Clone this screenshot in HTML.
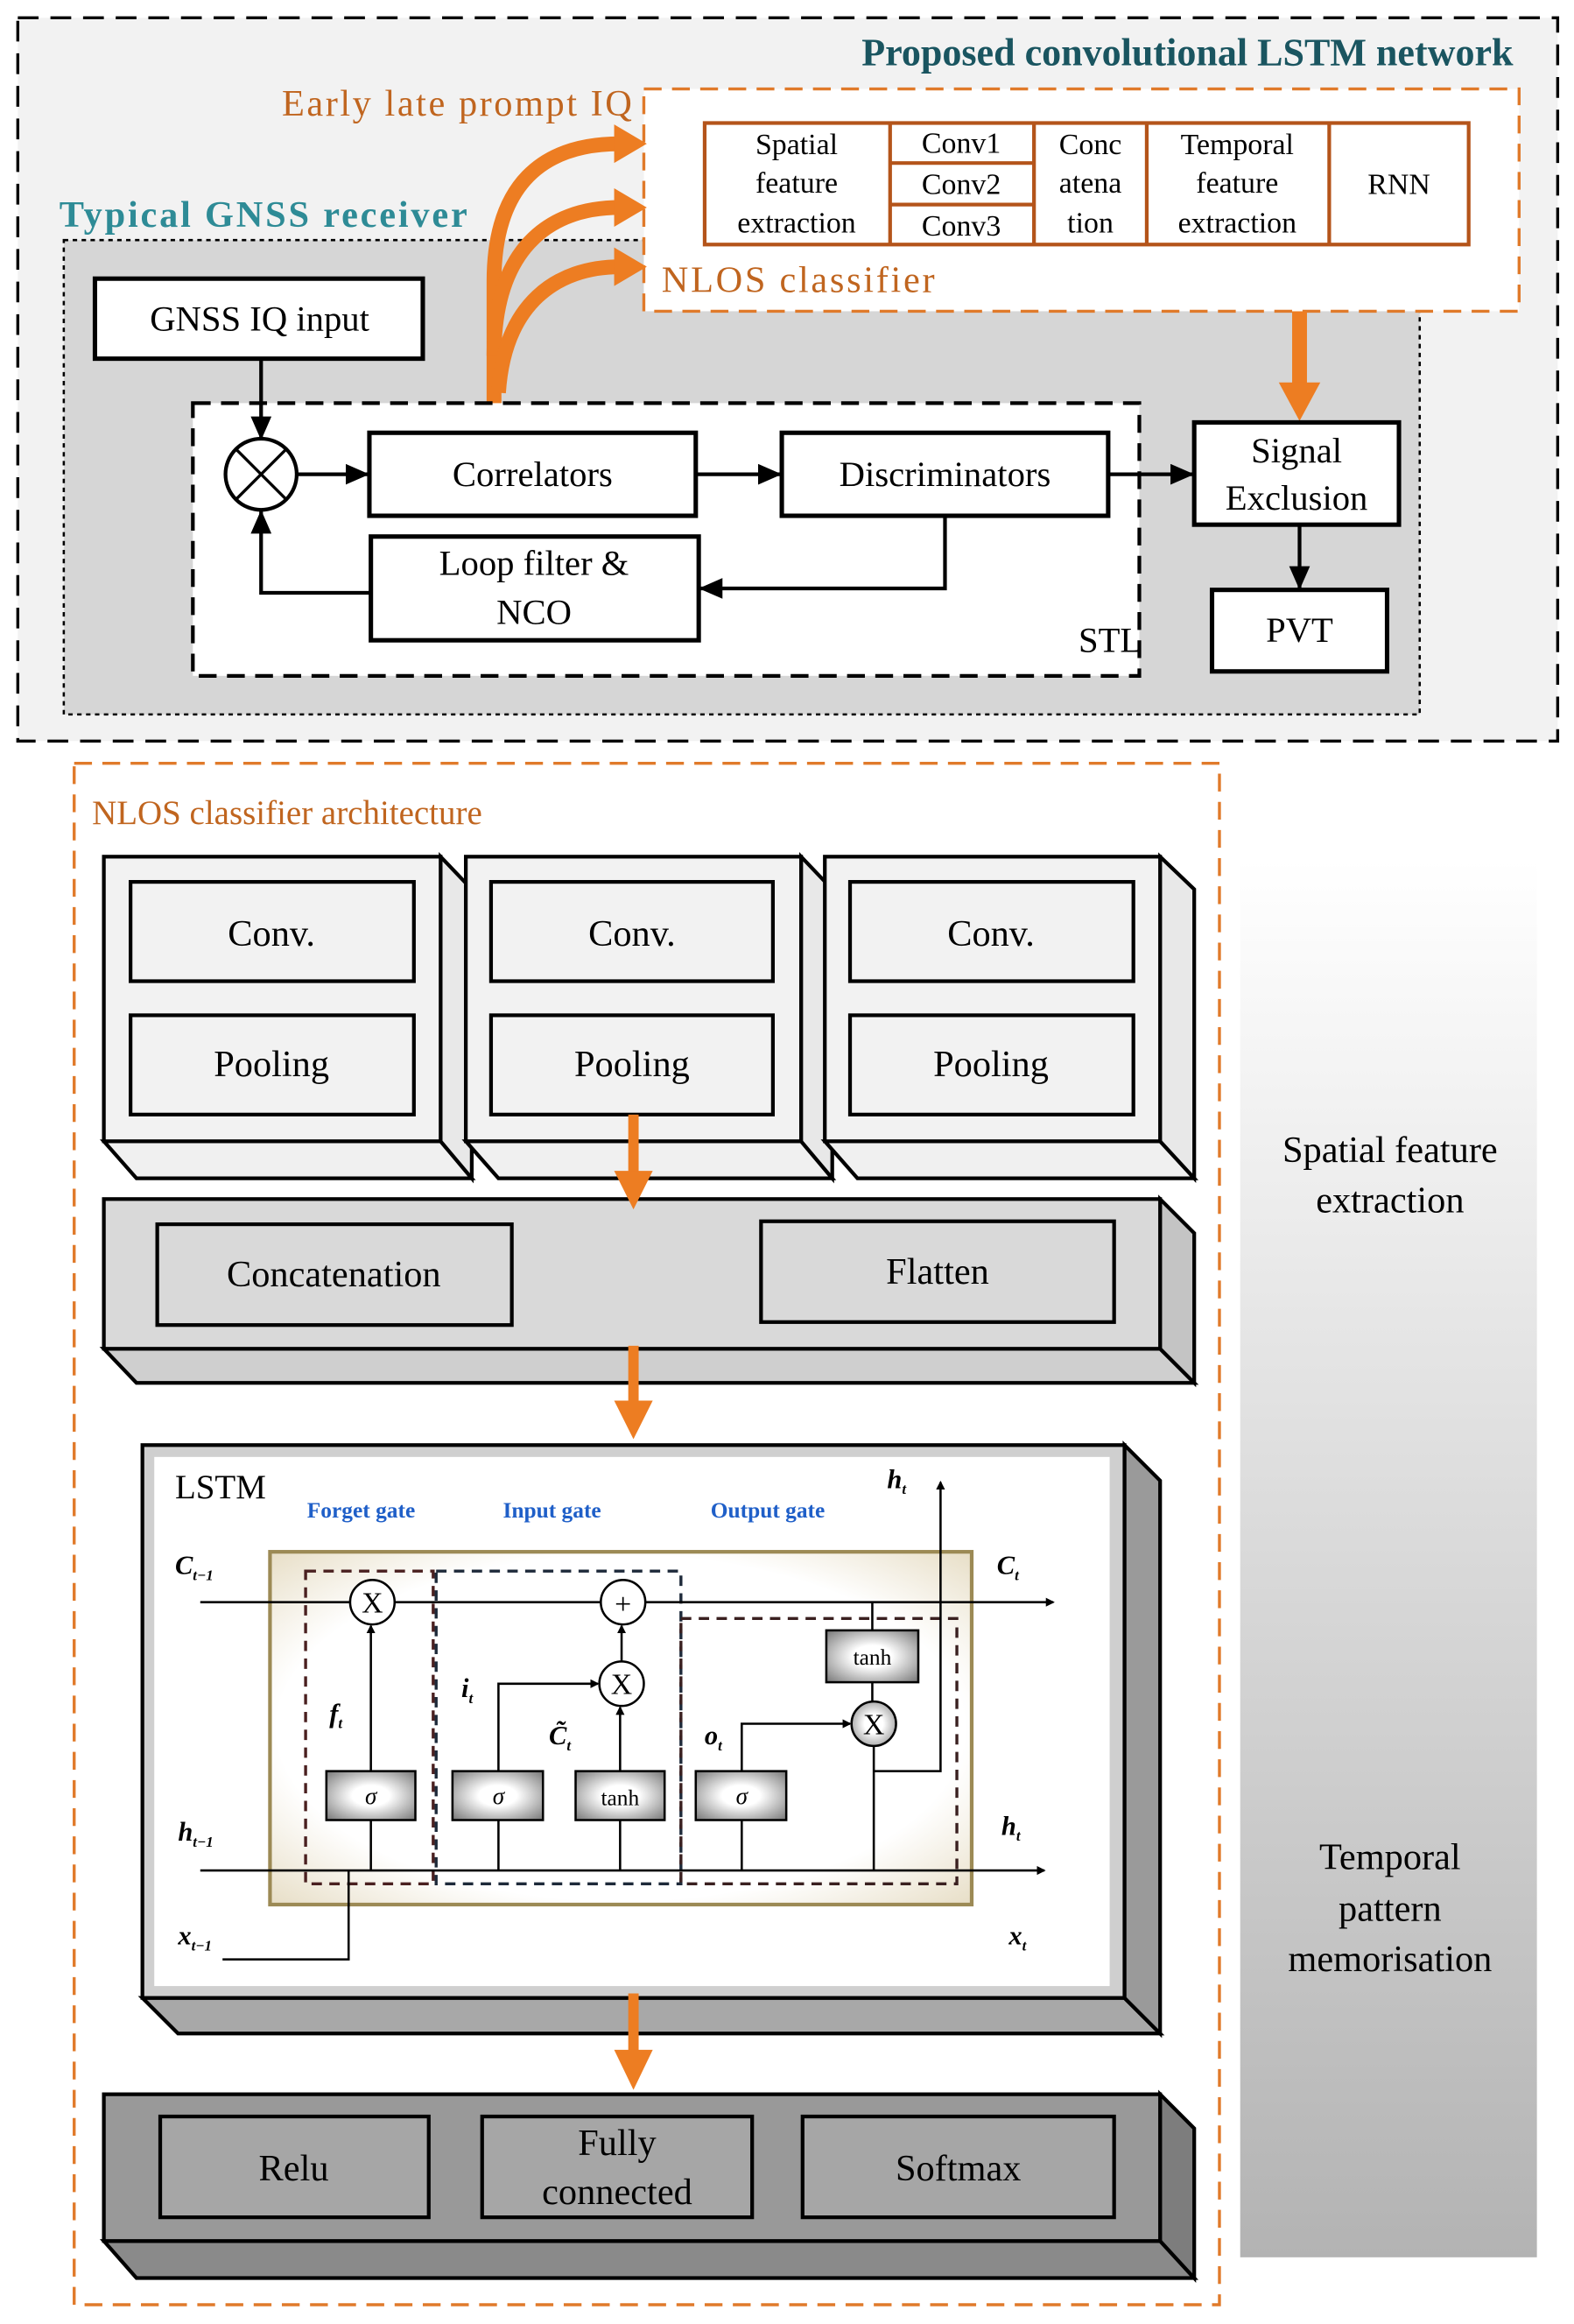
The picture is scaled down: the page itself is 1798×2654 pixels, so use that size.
<!DOCTYPE html>
<html><head><meta charset="utf-8"><style>
html,body{margin:0;padding:0;background:#fff;}
svg{display:block;}
text{font-family:"Liberation Serif",serif;}
</style></head><body>
<svg width="1798" height="2654" viewBox="0 0 1061 1568" preserveAspectRatio="none" xmlns="http://www.w3.org/2000/svg">
<defs>
<linearGradient id="side" x1="0" y1="0" x2="0" y2="1"><stop offset="0" stop-color="#ffffff"/><stop offset="1" stop-color="#b3b3b3"/></linearGradient>
<radialGradient id="cell" cx="0.5" cy="0.5" r="0.7"><stop offset="0.7" stop-color="#ffffff"/><stop offset="1" stop-color="#e8dfc8"/></radialGradient>
<radialGradient id="gbox" cx="0.5" cy="0.5" r="0.7"><stop offset="0.3" stop-color="#ffffff"/><stop offset="1" stop-color="#777"/></radialGradient>
<marker id="ah" markerWidth="8" markerHeight="8" refX="7" refY="4" orient="auto" markerUnits="userSpaceOnUse"><path d="M0,0 L8,4 L0,8 Z" fill="#000"/></marker>
<marker id="bh" markerWidth="16" markerHeight="14" refX="15" refY="7" orient="auto" markerUnits="userSpaceOnUse"><path d="M0,0 L16,7 L0,14 Z" fill="#000"/></marker>
<marker id="sh" markerWidth="6" markerHeight="6" refX="5" refY="3" orient="auto" markerUnits="userSpaceOnUse"><path d="M0,0 L6,3 L0,6 Z" fill="#000"/></marker>
</defs>

<!-- TOP -->
<rect x="12" y="12" width="1038" height="488" fill="#f2f2f2" stroke="#000" stroke-width="2" stroke-dasharray="14,8"/>
<text x="1020" y="44" text-anchor="end" font-size="26" font-weight="bold" fill="#1a5560">Proposed convolutional LSTM network</text>
<rect x="43" y="162" width="914" height="320" fill="#d6d6d6" stroke="#000" stroke-width="1.5" stroke-dasharray="3,3"/>
<text x="40" y="153" font-size="25" font-weight="bold" fill="#2e8b96" textLength="275">Typical GNSS receiver</text>
<rect x="434" y="60" width="590" height="150" fill="#fff" stroke="#e07a2a" stroke-width="2" stroke-dasharray="12,7"/>
<text x="190" y="78" font-size="25" fill="#c0651f" textLength="236">Early late prompt IQ</text>
<text x="446" y="197" font-size="25" fill="#c0651f" textLength="184">NLOS classifier</text>
<g stroke="#b4541a" stroke-width="2.5" fill="#fff">
<rect x="475" y="83" width="515" height="82"/>
<line x1="600" y1="83" x2="600" y2="165"/><line x1="697" y1="83" x2="697" y2="165"/>
<line x1="773" y1="83" x2="773" y2="165"/><line x1="896" y1="83" x2="896" y2="165"/>
<line x1="600" y1="110" x2="697" y2="110"/><line x1="600" y1="138" x2="697" y2="138"/>
</g>
<g font-size="20" text-anchor="middle" fill="#000">
<text x="537" y="104">Spatial</text><text x="537" y="130">feature</text><text x="537" y="157">extraction</text>
<text x="648" y="103">Conv1</text><text x="648" y="131">Conv2</text><text x="648" y="159">Conv3</text>
<text x="735" y="104">Conc</text><text x="735" y="130">atena</text><text x="735" y="157">tion</text>
<text x="834" y="104">Temporal</text><text x="834" y="130">feature</text><text x="834" y="157">extraction</text>
<text x="943" y="131">RNN</text>
</g>
<!-- orange curved arrows -->
<g stroke="#ed7d22" stroke-width="10" fill="none">
<path d="M333,292 L333,190 C333,125 365,97 418,97"/>
<path d="M333,240 C333,170 368,140 418,140"/>
<path d="M336,265 C340,205 375,180 418,180"/>
<line x1="876" y1="210" x2="876" y2="262"/>
</g>
<g fill="#ed7d22">
<path d="M414,84 L436,97 L414,110 Z"/><path d="M414,127 L436,140 L414,153 Z"/><path d="M414,167 L436,180 L414,193 Z"/>
<path d="M862,258 L890,258 L876,284 Z"/>
</g>
<rect x="64" y="188" width="221" height="54" fill="#fff" stroke="#000" stroke-width="3"/>
<text x="175" y="223" font-size="24" text-anchor="middle">GNSS IQ input</text>
<rect x="130" y="272" width="638" height="184" fill="#fff" stroke="#000" stroke-width="2.5" stroke-dasharray="12,7"/>
<text x="727" y="440" font-size="24">STL</text>
<circle cx="176" cy="320" r="24" fill="#fff" stroke="#000" stroke-width="2.5"/>
<line x1="159" y1="303" x2="193" y2="337" stroke="#000" stroke-width="2"/><line x1="193" y1="303" x2="159" y2="337" stroke="#000" stroke-width="2"/>
<g fill="#fff" stroke="#000" stroke-width="3">
<rect x="249" y="292" width="220" height="56"/><rect x="527" y="292" width="220" height="56"/>
<rect x="250" y="362" width="221" height="70"/><rect x="805" y="285" width="138" height="69"/><rect x="817" y="398" width="118" height="55"/>
</g>
<g font-size="24" text-anchor="middle">
<text x="359" y="328">Correlators</text><text x="637" y="328">Discriminators</text>
<text x="360" y="388">Loop filter &amp;</text><text x="360" y="421">NCO</text>
<text x="874" y="312">Signal</text><text x="874" y="344">Exclusion</text><text x="876" y="433">PVT</text>
</g>
<g stroke="#000" stroke-width="2.5" fill="none" marker-end="url(#bh)">
<line x1="176" y1="242" x2="176" y2="296"/>
<line x1="200" y1="320" x2="248" y2="320"/>
<line x1="469" y1="320" x2="526" y2="320"/>
<line x1="747" y1="320" x2="804" y2="320"/>
<path d="M637,348 L637,397 L472,397"/>
<path d="M250,400 L176,400 L176,345"/>
<line x1="876" y1="354" x2="876" y2="397"/>
</g>

<!-- BOTTOM -->
<rect x="50" y="515" width="772" height="1040" fill="#fff" stroke="#e07a2a" stroke-width="2" stroke-dasharray="12,7"/>
<text x="62" y="556" font-size="23" fill="#c0651f">NLOS classifier architecture</text>
<rect x="836" y="580" width="200" height="943" fill="url(#side)"/>
<g font-size="25" text-anchor="middle">
<text x="937" y="784">Spatial feature</text><text x="937" y="818">extraction</text>
<text x="937" y="1261">Temporal</text><text x="937" y="1296">pattern</text><text x="937" y="1330">memorisation</text>
</g>
<!-- conv blocks -->
<g stroke="#000" stroke-width="2.5">
<g>
<path d="M70,770 L297,770 L318,795 L92,795 Z" fill="#f0f0f0"/><path d="M297,578 L318,600 L318,795 L297,770 Z" fill="#e8e8e8"/>
<rect x="70" y="578" width="227" height="192" fill="#f2f2f2"/>
<rect x="88" y="595" width="191" height="67" fill="#f2f2f2"/><rect x="88" y="685" width="191" height="67" fill="#f2f2f2"/>
</g>
<g>
<path d="M314,770 L540,770 L561,795 L336,795 Z" fill="#f0f0f0"/><path d="M540,578 L561,600 L561,795 L540,770 Z" fill="#e8e8e8"/>
<rect x="314" y="578" width="226" height="192" fill="#f2f2f2"/>
<rect x="331" y="595" width="190" height="67" fill="#f2f2f2"/><rect x="331" y="685" width="190" height="67" fill="#f2f2f2"/>
</g>
<g>
<path d="M556,770 L782,770 L805,795 L578,795 Z" fill="#f0f0f0"/><path d="M782,578 L805,600 L805,795 L782,770 Z" fill="#e8e8e8"/>
<rect x="556" y="578" width="226" height="192" fill="#f2f2f2"/>
<rect x="573" y="595" width="191" height="67" fill="#f2f2f2"/><rect x="573" y="685" width="191" height="67" fill="#f2f2f2"/>
</g>
<!-- concat slab -->
<path d="M70,910 L782,910 L805,933 L92,933 Z" fill="#cfcfcf"/><path d="M782,809 L805,832 L805,933 L782,910 Z" fill="#c4c4c4"/>
<rect x="70" y="809" width="712" height="101" fill="#d9d9d9"/>
<rect x="106" y="826" width="239" height="68" fill="#d9d9d9"/><rect x="513" y="824" width="238" height="68" fill="#d9d9d9"/>
<!-- LSTM slab -->
<path d="M96,1348 L758,1348 L782,1372 L120,1372 Z" fill="#a8a8a8"/><path d="M758,975 L782,999 L782,1372 L758,1348 Z" fill="#9a9a9a"/>
<rect x="96" y="975" width="662" height="373" fill="#cfcfcf"/>
<!-- bottom slab -->
<path d="M70,1512 L782,1512 L805,1537 L92,1537 Z" fill="#8a8a8a"/><path d="M782,1413 L805,1436 L805,1537 L782,1512 Z" fill="#7d7d7d"/>
<rect x="70" y="1413" width="712" height="99" fill="#999"/>
<rect x="108" y="1428" width="181" height="68" fill="#a6a6a6"/><rect x="325" y="1428" width="182" height="68" fill="#a6a6a6"/><rect x="541" y="1428" width="210" height="68" fill="#a6a6a6"/>
</g>
<rect x="104" y="983" width="644" height="357" fill="#fff"/>
<g font-size="25" text-anchor="middle">
<text x="183" y="638">Conv.</text><text x="183" y="726">Pooling</text>
<text x="426" y="638">Conv.</text><text x="426" y="726">Pooling</text>
<text x="668" y="638">Conv.</text><text x="668" y="726">Pooling</text>
<text x="225" y="868">Concatenation</text><text x="632" y="866">Flatten</text>
<text x="198" y="1471">Relu</text><text x="416" y="1454">Fully</text><text x="416" y="1487">connected</text><text x="646" y="1471">Softmax</text>
</g>
<g stroke="#ed7d22" stroke-width="7"><line x1="427" y1="752" x2="427" y2="795"/><line x1="427" y1="908" x2="427" y2="950"/><line x1="427" y1="1345" x2="427" y2="1388"/></g>
<g fill="#ed7d22"><path d="M414,790 L440,790 L427,816 Z"/><path d="M414,945 L440,945 L427,971 Z"/><path d="M414,1383 L440,1383 L427,1410 Z"/></g>

<!-- LSTM cell -->
<text x="118" y="1011" font-size="23">LSTM</text>
<g font-size="15" font-weight="bold" fill="#1f5fc8">
<text x="207" y="1024">Forget gate</text><text x="339" y="1024">Input gate</text><text x="479" y="1024">Output gate</text>
</g>
<rect x="182" y="1047" width="473" height="238" fill="url(#cell)" stroke="#9c8a55" stroke-width="2.5"/>
<rect x="206" y="1060" width="86" height="211" fill="none" stroke="#4a2020" stroke-width="2" stroke-dasharray="7,5"/>
<rect x="294" y="1060" width="165" height="211" fill="none" stroke="#1e2a3a" stroke-width="2" stroke-dasharray="7,5"/>
<rect x="459" y="1092" width="186" height="179" fill="none" stroke="#3a2020" stroke-width="2" stroke-dasharray="7,5"/>
<g stroke="#000" stroke-width="1.5" fill="none">
<line x1="135" y1="1081" x2="710" y2="1081" marker-end="url(#sh)"/>
<line x1="135" y1="1262" x2="704" y2="1262" marker-end="url(#sh)"/>
<line x1="250" y1="1262" x2="250" y2="1097" marker-end="url(#sh)"/>
<path d="M336,1262 L336,1136 L403,1136" marker-end="url(#sh)"/>
<line x1="418" y1="1262" x2="418" y2="1152" marker-end="url(#sh)"/>
<line x1="419" y1="1121" x2="419" y2="1097" marker-end="url(#sh)"/>
<path d="M500,1262 L500,1163 L573,1163" marker-end="url(#sh)"/>
<line x1="588" y1="1081" x2="588" y2="1148"/>
<path d="M589,1262 L589,1178"/>
<path d="M589,1195 L634,1195 L634,1000" marker-end="url(#sh)"/>
<path d="M150,1322 L235,1322 L235,1262"/>
</g>
<g stroke="#000" stroke-width="1.5" fill="#fff">
<circle cx="251" cy="1081" r="15"/><circle cx="420" cy="1081" r="15"/><circle cx="419" cy="1136" r="15"/>
<circle cx="589" cy="1163" r="15" fill="url(#gbox)"/>
<rect x="220" y="1195" width="60" height="33" fill="url(#gbox)"/><rect x="305" y="1195" width="61" height="33" fill="url(#gbox)"/>
<rect x="388" y="1195" width="60" height="33" fill="url(#gbox)"/><rect x="469" y="1195" width="61" height="33" fill="url(#gbox)"/>
<rect x="557" y="1100" width="62" height="35" fill="url(#gbox)"/>
</g>
<g font-size="20" text-anchor="middle">
<text x="251" y="1088">X</text><text x="420" y="1089">+</text><text x="419" y="1143">X</text><text x="589" y="1170">X</text>
</g>
<g font-size="16" text-anchor="middle" font-style="italic">
<text x="250" y="1217">σ</text><text x="336" y="1217">σ</text><text x="500" y="1217">σ</text>
</g>
<g font-size="15" text-anchor="middle"><text x="418" y="1218">tanh</text><text x="588" y="1123">tanh</text></g>
<g font-size="18" font-weight="bold" font-style="italic">
<text x="118" y="1062">C<tspan font-size="10" dy="4">t−1</tspan></text>
<text x="672" y="1062">C<tspan font-size="10" dy="4">t</tspan></text>
<text x="598" y="1004">h<tspan font-size="10" dy="4">t</tspan></text>
<text x="120" y="1242">h<tspan font-size="10" dy="4">t−1</tspan></text>
<text x="675" y="1238">h<tspan font-size="10" dy="4">t</tspan></text>
<text x="120" y="1312">x<tspan font-size="10" dy="4">t−1</tspan></text>
<text x="680" y="1312">x<tspan font-size="10" dy="4">t</tspan></text>
<text x="222" y="1162">f<tspan font-size="10" dy="4">t</tspan></text>
<text x="311" y="1145">i<tspan font-size="10" dy="4">t</tspan></text>
<text x="370" y="1177">C̃<tspan font-size="10" dy="4">t</tspan></text>
<text x="475" y="1177">o<tspan font-size="10" dy="4">t</tspan></text>
</g>
</svg>
</body></html>
